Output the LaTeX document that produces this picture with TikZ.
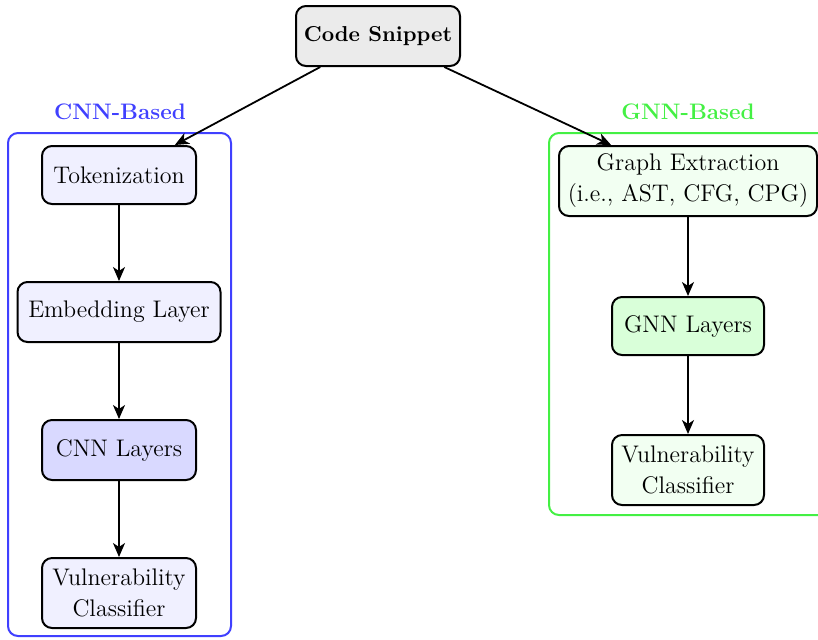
\documentclass[tikz,border=0pt]{standalone}
\usetikzlibrary{arrows.meta}
\definecolor{cnnblue}{HTML}{4040FF}
\definecolor{gnngreen}{HTML}{44F044}
\begin{document}
\begin{tikzpicture}[x=0.5pt,y=-0.5pt,
  every node/.style={font=\fontsize{12}{15.5}\selectfont},
  stage/.style={draw=black, line width=1pt, rounded corners=5pt, align=center,
    inner sep=0pt},
  flow/.style={-{Stealth[length=7pt,width=6pt,inset=2pt]}, line width=0.9pt},
  group/.style={line width=1pt, rounded corners=5pt},
  grouplabel/.style={font=\fontsize{11.2}{15}\selectfont\bfseries}]
\useasboundingbox (0,0) rectangle (818,639);
\clip (0,0) rectangle (818,639);

% group frames
\draw[group, draw=cnnblue] (8,133) rectangle (231,636);
\draw[group, draw=gnngreen] (549,133) rectangle (840,515);
\node[grouplabel, text=cnnblue] (cnnlabel) at (120,112) {CNN-Based};
\node[grouplabel, text=gnngreen] (gnnlabel) at (688,112) {GNN-Based};

% input
\node[stage, fill=black!8, minimum width=82pt, minimum height=30pt,
  font=\fontsize{10.8}{15}\selectfont\bfseries] (code) at (378,36) {Code Snippet};

% CNN pipeline
\node[stage, fill=blue!6, minimum width=77pt, minimum height=29pt] (tok) at (119,175) {Tokenization};
\node[stage, fill=blue!6, minimum width=101.5pt, minimum height=30pt] (emb) at (119,312) {Embedding Layer};
\node[stage, fill=blue!15, minimum width=77pt, minimum height=30pt] (cnn) at (119,450) {CNN Layers};
\node[stage, fill=blue!6, minimum width=77pt, minimum height=35pt] (vcl) at (119,593) {Vulnerability\\Classifier};

% GNN pipeline
\node[stage, fill=green!5, minimum width=129pt, minimum height=35pt] (graph) at (688,181) {Graph Extraction\\(i.e., AST, CFG, CPG)};
\node[stage, fill=green!15, minimum width=76pt, minimum height=29pt] (gnn) at (688,326) {GNN Layers};
\node[stage, fill=green!5, minimum width=76pt, minimum height=35pt] (vcr) at (688,470) {Vulnerability\\Classifier};

% connectors
\draw[flow] (code) -- (tok);
\draw[flow] (code) -- (graph);
\draw[flow] (tok) -- (emb);
\draw[flow] (emb) -- (cnn);
\draw[flow] (cnn) -- (vcl);
\draw[flow] (graph) -- (gnn);
\draw[flow] (gnn) -- (vcr);
\end{tikzpicture}
\end{document}
